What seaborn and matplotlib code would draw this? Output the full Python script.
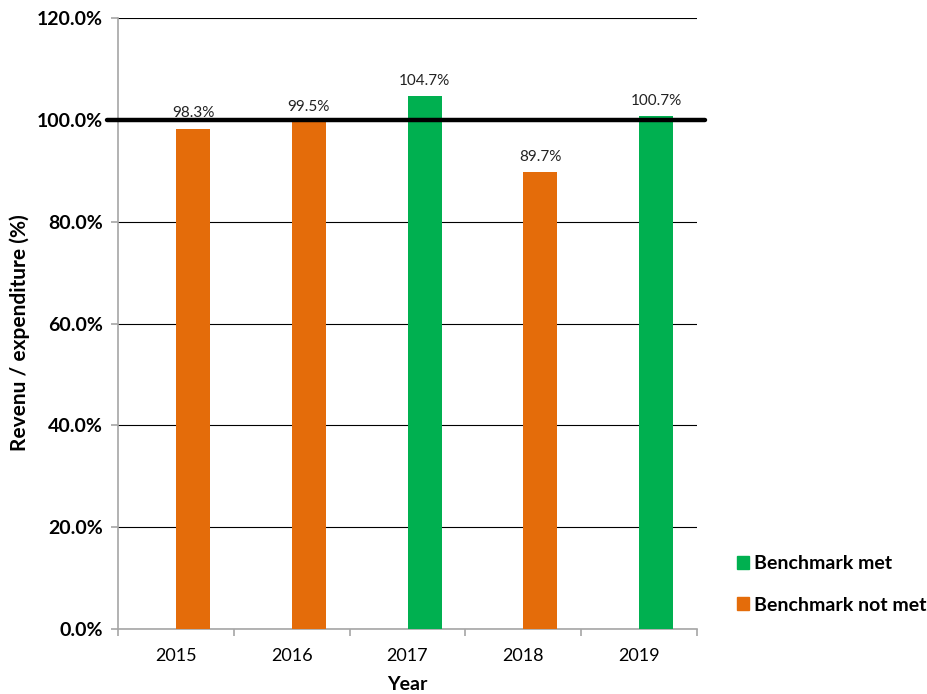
import matplotlib
matplotlib.use("Agg")
import matplotlib.pyplot as plt
from matplotlib.patches import Patch
from matplotlib.ticker import FuncFormatter, FixedLocator
import seaborn as sns
import pandas as pd

# data
years = ["2015", "2016", "2017", "2018", "2019"]
ratio = [98.3, 99.5, 104.7, 89.7, 100.7]
status = ["Benchmark not met", "Benchmark not met", "Benchmark met",
          "Benchmark not met", "Benchmark met"]

colours = {"Benchmark met": "#00B050", "Benchmark not met": "#E46C0A"}

sns.set_style("white")
plt.rcParams["font.family"] = ["Lato", "DejaVu Sans"]
plt.rcParams["text.color"] = "black"
plt.rcParams["axes.labelcolor"] = "black"
plt.rcParams["xtick.labelcolor"] = "black"
plt.rcParams["ytick.labelcolor"] = "black"

# every bar sits in the right-hand slot of a 2-slot cluster (like the excel original)
df = pd.DataFrame({"Year": years, "Ratio": ratio, "Slot": "bar"})

fig = plt.figure(figsize=(9.27, 6.94), dpi=100)
ax = fig.add_axes([0.1273, 0.0937, 0.6246, 0.8803])

sns.barplot(data=df, x="Year", y="Ratio", hue="Slot",
            hue_order=["empty", "bar"],
            palette={"empty": "white", "bar": "#E46C0A"},
            dodge=True, width=0.59, legend=False, ax=ax, zorder=3,
            saturation=1)

# recolour each bar from its benchmark status
for p in ax.patches:
    idx = int(round(p.get_x()))
    if 0 <= idx < len(status):
        p.set_facecolor(colours[status[idx]])
        p.set_edgecolor("none")

ax.set_ylim(0, 120)
ax.set_xlim(-0.5, 4.5)
ax.yaxis.set_major_locator(FixedLocator([0, 20, 40, 60, 80, 100, 120]))
ax.yaxis.set_major_formatter(FuncFormatter(lambda v, p: f"{v:.1f}%"))
ax.grid(axis="y", color="black", linewidth=0.8, zorder=0)
ax.set_axisbelow(True)

for s in ["top", "right"]:
    ax.spines[s].set_visible(False)
for s in ["left", "bottom"]:
    ax.spines[s].set_color("#a6a6a6")
    ax.spines[s].set_linewidth(1.2)

ax.tick_params(axis="y", left=True, length=5, color="#a6a6a6", width=1.2,
               labelsize=14, pad=6)
for t in ax.get_yticklabels():
    t.set_fontweight("bold")
ax.tick_params(axis="x", which="major", length=0, labelsize=13, pad=14)
ax.set_xticks([i - 0.5 for i in range(len(years) + 1)], minor=True)
ax.tick_params(axis="x", which="minor", bottom=True, length=5,
               color="#a6a6a6", width=1.2)

# benchmark line at 100 %
ax.axhline(100, xmin=-0.019, xmax=1.014, color="black", linewidth=3.2,
           clip_on=False, zorder=4)

for p in ax.patches:
    h = p.get_height()
    if h > 0:
        ax.text(p.get_x() + p.get_width() / 2, h + 1.6, f"{h:.1f}%",
                ha="center", va="bottom", fontsize=11, color="#222222",
                zorder=5)

ax.set_xlabel("Year", fontsize=14, fontweight="bold", labelpad=8)
ax.set_ylabel("Revenu / expenditure (%)", fontsize=15, fontweight="bold")
ax.yaxis.set_label_coords(-0.152, 0.485)

handles = [Patch(color=colours["Benchmark met"], label="Benchmark met"),
           Patch(color=colours["Benchmark not met"], label="Benchmark not met")]
fig.legend(handles=handles, loc="center left", bbox_to_anchor=(0.776, 0.158),
           frameon=False, prop={"weight": "bold", "size": 14},
           handlelength=0.6, handleheight=0.6, handletextpad=0.3,
           labelspacing=1.25)

fig.savefig("out.png", dpi=100)
